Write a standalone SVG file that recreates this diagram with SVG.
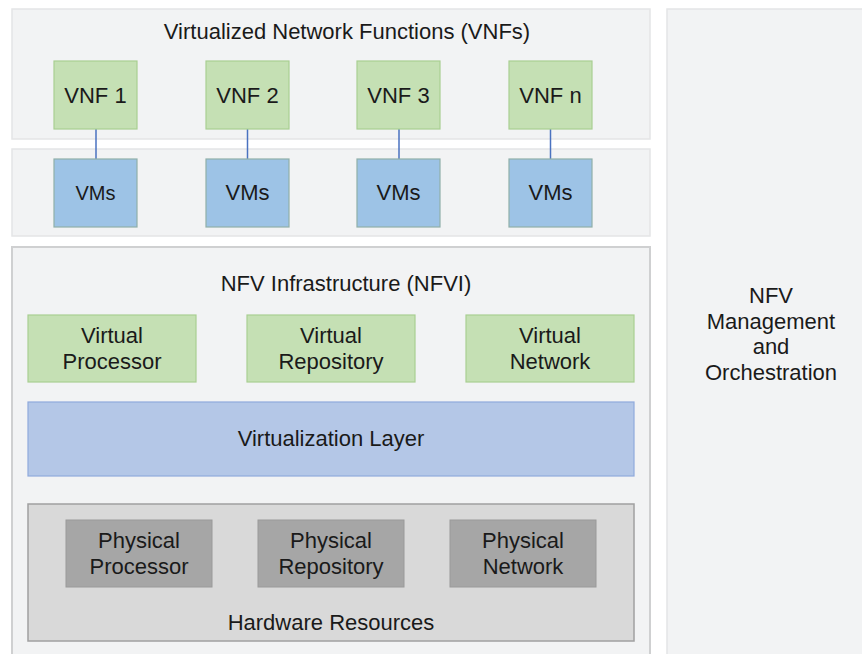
<svg xmlns="http://www.w3.org/2000/svg" width="862" height="654" viewBox="0 0 862 654">
<style>
.panel{fill:#f2f3f4;stroke:#e4e5e6;stroke-width:1.5}
.panel2{fill:#f2f3f4;stroke:#cfd0d1;stroke-width:2}
.green{fill:#c5e0b4;stroke:#a9cf92;stroke-width:1.2}
.blue{fill:#9dc3e6;stroke:#8fb0a8;stroke-width:1.2}
.vl{fill:#b4c7e7;stroke:#8faadc;stroke-width:1.2}
.hw{fill:#d9d9d9;stroke:#a0a0a0;stroke-width:1.5}
.phys{fill:#a6a6a6;stroke:#9a9a9a;stroke-width:1}
text{font-family:"Liberation Sans",Arial,sans-serif;font-size:22px;fill:#1a1a1a;text-anchor:middle}
.conn{stroke:#4a72c0;stroke-width:1.5;fill:none}
</style>
<g id="vnf-panel">
<rect class="panel" x="12" y="9" width="638" height="130"/>
<text x="347" y="39">Virtualized Network Functions (VNFs)</text>
</g>
<g id="vm-panel"><rect class="panel" x="12" y="149" width="638" height="87"/></g>
<g id="nfvi-panel">
<rect class="panel2" x="12" y="247" width="638" height="412"/>
<text x="346" y="291">NFV Infrastructure (NFVI)</text>
</g>
<g id="mano">
<rect class="panel" x="667" y="9" width="200" height="650"/>
<text x="771" y="303">NFV</text>
<text x="771" y="329">Management</text>
<text x="771" y="354">and</text>
<text x="771" y="380">Orchestration</text>
</g>
<g id="connectors">
<line class="conn" x1="96" y1="129" x2="96" y2="159"/>
<line class="conn" x1="247.5" y1="129" x2="247.5" y2="159"/>
<line class="conn" x1="399" y1="129" x2="399" y2="159"/>
<line class="conn" x1="550.5" y1="129" x2="550.5" y2="159"/>
</g>
<g id="vnf1"><rect class="green" x="54" y="61" width="83" height="68"/><text x="95.5" y="103">VNF 1</text></g>
<g id="vnf2"><rect class="green" x="206" y="61" width="83" height="68"/><text x="247.5" y="103">VNF 2</text></g>
<g id="vnf3"><rect class="green" x="357" y="61" width="83" height="68"/><text x="398.5" y="103">VNF 3</text></g>
<g id="vnfn"><rect class="green" x="509" y="61" width="83" height="68"/><text x="550.5" y="103">VNF n</text></g>
<g id="vm1"><rect class="blue" x="54" y="159" width="83" height="68"/><text x="95.5" y="200" style="font-size:20px">VMs</text></g>
<g id="vm2"><rect class="blue" x="206" y="159" width="83" height="68"/><text x="247.5" y="200">VMs</text></g>
<g id="vm3"><rect class="blue" x="357" y="159" width="83" height="68"/><text x="398.5" y="200">VMs</text></g>
<g id="vmn"><rect class="blue" x="509" y="159" width="83" height="68"/><text x="550.5" y="200">VMs</text></g>
<g id="vproc"><rect class="green" x="28" y="315" width="168" height="67"/><text x="112" y="343">Virtual</text><text x="112" y="369">Processor</text></g>
<g id="vrepo"><rect class="green" x="247" y="315" width="168" height="67"/><text x="331" y="343">Virtual</text><text x="331" y="369">Repository</text></g>
<g id="vnet"><rect class="green" x="466" y="315" width="168" height="67"/><text x="550" y="343">Virtual</text><text x="550" y="369">Network</text></g>
<g id="vlayer"><rect class="vl" x="28" y="402" width="606" height="74"/><text x="331" y="446">Virtualization Layer</text></g>
<g id="hw"><rect class="hw" x="28" y="504" width="606" height="137"/><text x="331" y="630">Hardware Resources</text></g>
<g id="pproc"><rect class="phys" x="66" y="520" width="146" height="67"/><text x="139" y="548">Physical</text><text x="139" y="574">Processor</text></g>
<g id="prepo"><rect class="phys" x="258" y="520" width="146" height="67"/><text x="331" y="548">Physical</text><text x="331" y="574">Repository</text></g>
<g id="pnet"><rect class="phys" x="450" y="520" width="146" height="67"/><text x="523" y="548">Physical</text><text x="523" y="574">Network</text></g>
</svg>
